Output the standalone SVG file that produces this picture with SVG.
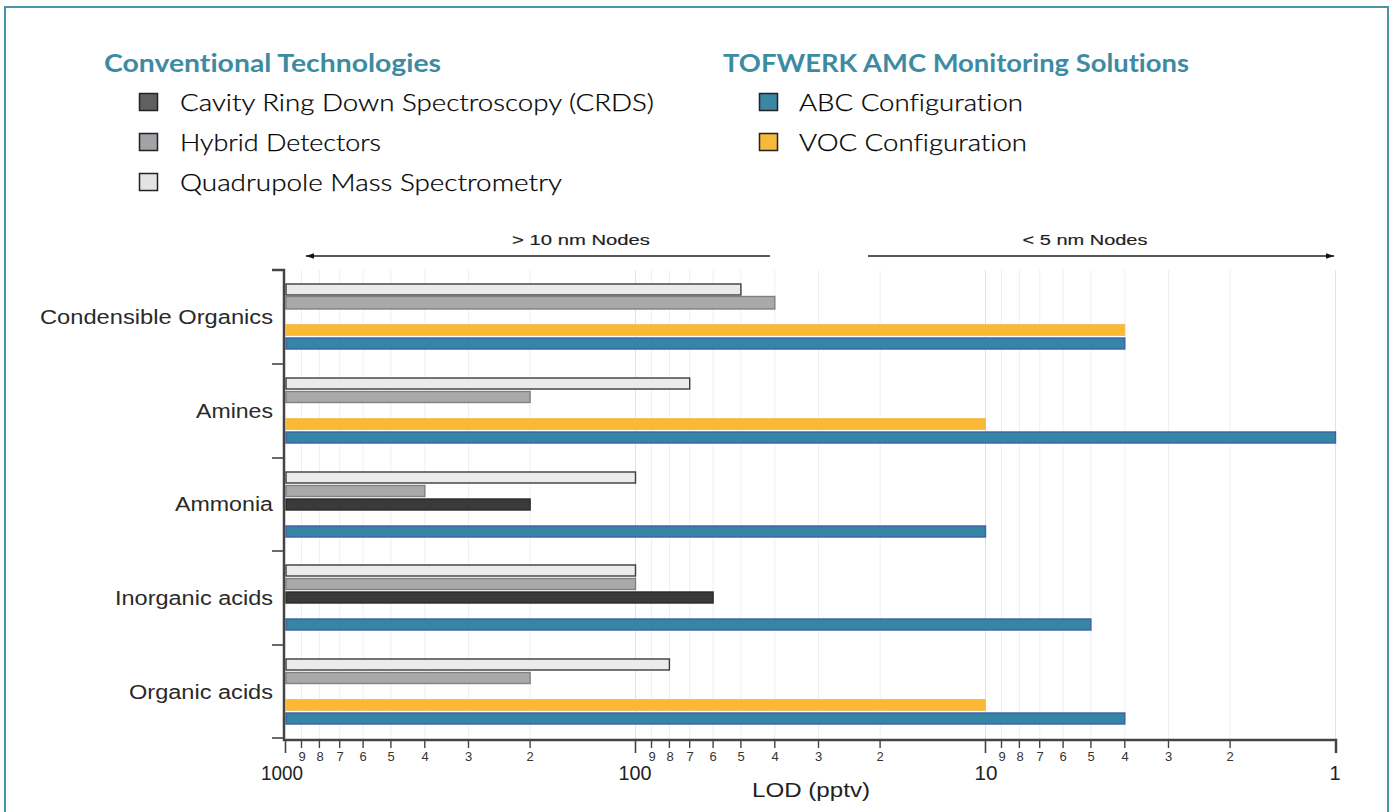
<svg xmlns="http://www.w3.org/2000/svg" width="1392" height="812" viewBox="0 0 1392 812">
  <defs>
    <style>
      .frame { fill: #ffffff; stroke: #4a93a8; stroke-width: 2; }
      .head { font-family: Lato, "Open Sans", sans-serif; font-weight: 700; font-size: 24px; fill: #3d8ba3; font-variant-ligatures: none; }
      .item { font-family: Lato, "Open Sans", sans-serif; font-weight: 300; font-size: 24px; fill: #000000; stroke: #000000; stroke-width: 0.25; font-variant-ligatures: none; }
      .sw { stroke: #222; stroke-width: 1.5; }
      .cat { font-family: "Liberation Sans", Arial, sans-serif; font-size: 19.5px; fill: #2a2a2a; text-anchor: end; }
      .node-lbl { font-family: "Liberation Sans", Arial, sans-serif; font-size: 14px; fill: #1e1e1e; stroke: #1e1e1e; stroke-width: 0.15; text-anchor: middle; }
      .minor { font-family: "Liberation Sans", Arial, sans-serif; font-size: 13px; fill: #333; text-anchor: middle; }
      .major { font-family: "Liberation Sans", Arial, sans-serif; font-size: 20px; fill: #222; text-anchor: middle; }
      .grid line { stroke: #efefef; stroke-width: 1; }
      .grid line.dec { stroke: #e2e2e2; }
      .axis { stroke: #444; stroke-width: 2.5; fill: none; }
      .tick { stroke: #444; stroke-width: 1.6; }
      .quad { fill: #ebebeb; stroke: #3c3c3c; stroke-width: 1.4; }
      .hyb { fill: #a9a9a9; stroke: #808080; stroke-width: 1.4; }
      .crds { fill: #3a3a3a; stroke: #2a2a2a; stroke-width: 1.4; }
      .voc { fill: #fbb833; stroke: #f3c060; stroke-width: 1; }
      .abc { fill: #3585a4; stroke: #3f5fa8; stroke-width: 1.4; }
      .arrow { stroke: #222; stroke-width: 1.6; fill: none; }
    </style>
    <marker id="ah" viewBox="0 0 10 10" refX="10" refY="5" markerWidth="12" markerHeight="8" markerUnits="userSpaceOnUse" orient="auto">
      <path d="M0,1.5 L10,5 L0,8.5 z" fill="#111"/>
    </marker>
  </defs>

  <!-- outer panel -->
  <rect class="frame" x="5" y="7" width="1383" height="820"/>

  <!-- legend: conventional technologies -->
  <g id="legend-conventional">
    <text class="head" x="104" y="72" textLength="337" lengthAdjust="spacingAndGlyphs">Conventional Technologies</text>
    <g id="legend-crds">
      <rect class="sw" x="139.5" y="93.5" width="18" height="17" fill="#606060"/>
      <text class="item" x="180" y="111" textLength="474" lengthAdjust="spacingAndGlyphs">Cavity Ring Down Spectroscopy (CRDS)</text>
    </g>
    <g id="legend-hybrid">
      <rect class="sw" x="139.5" y="133.5" width="18" height="17" fill="#a2a3a7"/>
      <text class="item" x="180" y="151" textLength="201" lengthAdjust="spacingAndGlyphs">Hybrid Detectors</text>
    </g>
    <g id="legend-quad">
      <rect class="sw" x="139.5" y="173.5" width="18" height="17" fill="#e3e3e3"/>
      <text class="item" x="180" y="191" textLength="382" lengthAdjust="spacingAndGlyphs">Quadrupole Mass Spectrometry</text>
    </g>
  </g>

  <!-- legend: TOFWERK solutions -->
  <g id="legend-tofwerk">
    <text class="head" x="723" y="72" textLength="466" lengthAdjust="spacingAndGlyphs">TOFWERK AMC Monitoring Solutions</text>
    <g id="legend-abc">
      <rect class="sw" x="759.5" y="93.5" width="18" height="17" fill="#3a87a4"/>
      <text class="item" x="799" y="111" textLength="224" lengthAdjust="spacingAndGlyphs">ABC Configuration</text>
    </g>
    <g id="legend-voc">
      <rect class="sw" x="759.5" y="133.5" width="18" height="17" fill="#f6b93b"/>
      <text class="item" x="799" y="151" textLength="228" lengthAdjust="spacingAndGlyphs">VOC Configuration</text>
    </g>
  </g>

  <!-- node-size ranges -->
  <g id="node-ranges">
    <text class="node-lbl" x="581" y="245" textLength="138" lengthAdjust="spacingAndGlyphs">&gt; 10 nm Nodes</text>
    <text class="node-lbl" x="1085" y="245" textLength="125" lengthAdjust="spacingAndGlyphs">&lt; 5 nm Nodes</text>
  </g>
  <g id="connectors">
    <line class="arrow" x1="770" y1="256" x2="306" y2="256" marker-end="url(#ah)"/>
    <line class="arrow" x1="868" y1="256" x2="1334" y2="256" marker-end="url(#ah)"/>
  </g>

  <!-- log-scale grid (1000 → 1 pptv, 350 px per decade) -->
  <g class="grid">
    <line class="dec" x1="635.5" y1="270" x2="635.5" y2="739"/>
    <line class="dec" x1="985.5" y1="270" x2="985.5" y2="739"/>
    <line class="dec" x1="1335.5" y1="270" x2="1335.5" y2="739"/>
    <line x1="301.5" y1="270" x2="301.5" y2="739"/>
    <line x1="319.4" y1="270" x2="319.4" y2="739"/>
    <line x1="339.7" y1="270" x2="339.7" y2="739"/>
    <line x1="363.1" y1="270" x2="363.1" y2="739"/>
    <line x1="390.9" y1="270" x2="390.9" y2="739"/>
    <line x1="424.8" y1="270" x2="424.8" y2="739"/>
    <line x1="468.5" y1="270" x2="468.5" y2="739"/>
    <line x1="530.1" y1="270" x2="530.1" y2="739"/>
    <line x1="651.5" y1="270" x2="651.5" y2="739"/>
    <line x1="669.4" y1="270" x2="669.4" y2="739"/>
    <line x1="689.7" y1="270" x2="689.7" y2="739"/>
    <line x1="713.1" y1="270" x2="713.1" y2="739"/>
    <line x1="740.9" y1="270" x2="740.9" y2="739"/>
    <line x1="774.8" y1="270" x2="774.8" y2="739"/>
    <line x1="818.5" y1="270" x2="818.5" y2="739"/>
    <line x1="880.1" y1="270" x2="880.1" y2="739"/>
    <line x1="1001.5" y1="270" x2="1001.5" y2="739"/>
    <line x1="1019.4" y1="270" x2="1019.4" y2="739"/>
    <line x1="1039.7" y1="270" x2="1039.7" y2="739"/>
    <line x1="1063.1" y1="270" x2="1063.1" y2="739"/>
    <line x1="1090.9" y1="270" x2="1090.9" y2="739"/>
    <line x1="1124.8" y1="270" x2="1124.8" y2="739"/>
    <line x1="1168.5" y1="270" x2="1168.5" y2="739"/>
    <line x1="1230.1" y1="270" x2="1230.1" y2="739"/>
  </g>

  <!-- category bars -->
  <g id="cat-condensible">
    <text class="cat" x="273" y="324" textLength="233" lengthAdjust="spacingAndGlyphs">Condensible Organics</text>
    <rect class="quad" x="286" y="284" width="454.9" height="11"/>
    <rect class="hyb" x="286" y="296.5" width="488.8" height="12.5"/>
    <rect class="voc" x="286" y="324.5" width="838.8" height="11"/>
    <rect class="abc" x="286" y="338" width="838.8" height="11"/>
  </g>
  <g id="cat-amines">
    <text class="cat" x="273" y="418" textLength="77" lengthAdjust="spacingAndGlyphs">Amines</text>
    <rect class="quad" x="286" y="378" width="403.7" height="11"/>
    <rect class="hyb" x="286" y="391.5" width="244.1" height="11"/>
    <rect class="voc" x="286" y="418.5" width="699.5" height="11"/>
    <rect class="abc" x="286" y="432" width="1049.5" height="11"/>
  </g>
  <g id="cat-ammonia">
    <text class="cat" x="273" y="511" textLength="98" lengthAdjust="spacingAndGlyphs">Ammonia</text>
    <rect class="quad" x="286" y="472" width="349.5" height="11"/>
    <rect class="hyb" x="286" y="485.5" width="138.8" height="11"/>
    <rect class="crds" x="286" y="499" width="244.1" height="11"/>
    <rect class="abc" x="286" y="526" width="699.5" height="11"/>
  </g>
  <g id="cat-inorganic">
    <text class="cat" x="273" y="604.5" textLength="158" lengthAdjust="spacingAndGlyphs">Inorganic acids</text>
    <rect class="quad" x="286" y="565" width="349.5" height="11"/>
    <rect class="hyb" x="286" y="578.5" width="349.5" height="11"/>
    <rect class="crds" x="286" y="592" width="427.1" height="11"/>
    <rect class="abc" x="286" y="619" width="804.9" height="11"/>
  </g>
  <g id="cat-organic">
    <text class="cat" x="273" y="698.5" textLength="144" lengthAdjust="spacingAndGlyphs">Organic acids</text>
    <rect class="quad" x="286" y="659" width="383.4" height="11"/>
    <rect class="hyb" x="286" y="672.5" width="244.1" height="11"/>
    <rect class="voc" x="286" y="699.5" width="699.5" height="11"/>
    <rect class="abc" x="286" y="713" width="838.8" height="11"/>
  </g>

  <!-- axes -->
  <g id="axes">
    <path class="axis" d="M272,270 H284 V740 H1336 V753"/>
    <line class="tick" x1="272" y1="364" x2="284" y2="364"/>
    <line class="tick" x1="272" y1="458" x2="284" y2="458"/>
    <line class="tick" x1="272" y1="551" x2="284" y2="551"/>
    <line class="tick" x1="272" y1="645" x2="284" y2="645"/>
    <line class="tick" x1="272" y1="738" x2="284" y2="738"/>
    <!-- decade ticks -->
    <line class="tick" x1="285.5" y1="740" x2="285.5" y2="753"/>
    <line class="tick" x1="635.5" y1="740" x2="635.5" y2="753"/>
    <line class="tick" x1="985.5" y1="740" x2="985.5" y2="753"/>
    <!-- minor ticks -->
    <path d="M301.5,740v8 M319.4,740v8 M339.7,740v8 M363.1,740v8 M390.9,740v8 M424.8,740v8 M468.5,740v8 M530.1,740v8
             M651.5,740v8 M669.4,740v8 M689.7,740v8 M713.1,740v8 M740.9,740v8 M774.8,740v8 M818.5,740v8 M880.1,740v8
             M1001.5,740v8 M1019.4,740v8 M1039.7,740v8 M1063.1,740v8 M1090.9,740v8 M1124.8,740v8 M1168.5,740v8 M1230.1,740v8" stroke="#444" stroke-width="1.4" fill="none"/>
    <g class="minor">
      <text x="302" y="761">9</text><text x="320" y="761">8</text><text x="340" y="761">7</text><text x="363" y="761">6</text>
      <text x="391" y="761">5</text><text x="425" y="761">4</text><text x="468.5" y="761">3</text><text x="530" y="761">2</text>
      <text x="652" y="761">9</text><text x="670" y="761">8</text><text x="690" y="761">7</text><text x="713" y="761">6</text>
      <text x="741" y="761">5</text><text x="775" y="761">4</text><text x="818.5" y="761">3</text><text x="880" y="761">2</text>
      <text x="1002" y="761">9</text><text x="1020" y="761">8</text><text x="1040" y="761">7</text><text x="1063" y="761">6</text>
      <text x="1091" y="761">5</text><text x="1125" y="761">4</text><text x="1168.5" y="761">3</text><text x="1230" y="761">2</text>
    </g>
    <g class="major">
      <text x="282" y="780" textLength="42" lengthAdjust="spacingAndGlyphs">1000</text>
      <text x="635" y="780" textLength="33" lengthAdjust="spacingAndGlyphs">100</text>
      <text x="986" y="780" textLength="23" lengthAdjust="spacingAndGlyphs">10</text>
      <text x="1335" y="780">1</text>
      <text x="811" y="797" textLength="118" lengthAdjust="spacingAndGlyphs">LOD (pptv)</text>
    </g>
  </g>
</svg>
